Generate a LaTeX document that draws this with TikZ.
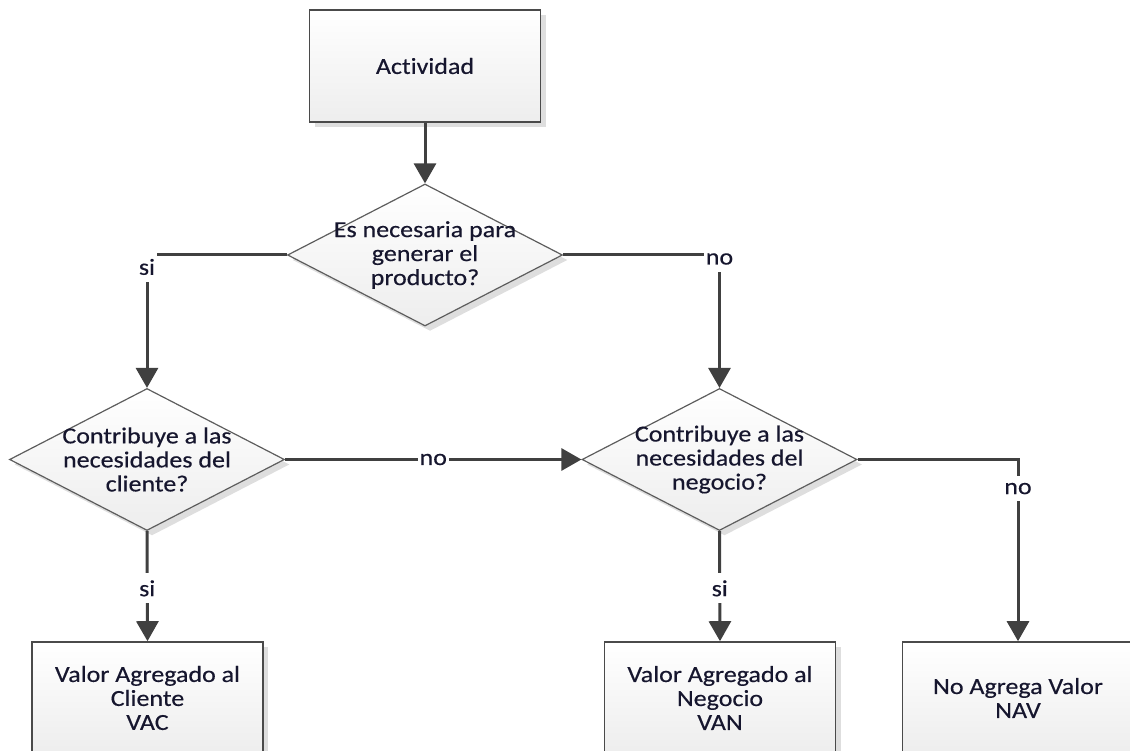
\documentclass[tikz,border=0pt]{standalone}
\usepackage{fontspec}
\setmainfont[FakeStretch=1.13,FakeBold=0.4,Ligatures=NoCommon]{Carlito}
\usetikzlibrary{shapes.geometric,arrows.meta,shadows}
\definecolor{ink}{HTML}{16162E}
\definecolor{edge}{HTML}{404040}
\begin{document}
\begin{tikzpicture}[x=1pt,y=-1pt,
  every node/.style={font=\fontsize{23}{24}\selectfont, text=ink},
  shade/.style={drop shadow={shadow xshift=5pt, shadow yshift=-5pt, fill=black!13, opacity=1}},
  procbox/.style={draw=edge!95, line width=1.6pt, minimum width=231pt, minimum height=112pt,
    top color=white, bottom color=black!7, shade, align=center, inner sep=0pt},
  decision/.style={diamond, draw=edge!85, line width=1.2pt, minimum width=275pt,
    minimum height=142pt, inner sep=0pt, top color=white, bottom color=black!7, shade},
  qtext/.style={align=center, inner sep=0pt},
  flow/.style={draw=edge, line width=3pt, -{Triangle[width=22pt,length=20pt]}},
  lbl/.style={fill=white, inner xsep=2pt, inner ysep=7pt}
]
\useasboundingbox (0,0) rectangle (1130,751);
\clip (0,0) rectangle (1130,751);

% process boxes
\node[procbox] (act) at (425,66) {Actividad};
\node[procbox] (vac) at (147.5,698) {Valor Agregado al\\Cliente\\VAC};
\node[procbox] (van) at (720,698) {Valor Agregado al\\Negocio\\VAN};
\node[procbox] (nav) at (1018,698) {No Agrega Valor\\NAV};

% decisions
\node[decision] (d1) at (425,255) {};
\node[qtext] (d1t) at (d1) {Es necesaria para\\generar el\\producto?};
\node[decision] (d2) at (147,459.5) {};
\node[qtext] (d2t) at (d2) {Contribuye a las\\necesidades del\\cliente?};
\node[decision] (d3) at (719.5,459.5) {};
\node[qtext] (d3t) at (d3) {Contribuye a las\\necesidades del\\negocio?};

% connectors
\draw[flow] (act) -- (d1);
\draw[flow] (d1.west) -| node[lbl,pos=0.545]{si} (d2.north);
\draw[flow] (d1.east) -| node[lbl,pos=0.515]{no} (d3.north);
\draw[flow] (d2.east) -- node[lbl,pos=0.5]{no} (d3.west);
\draw[flow] (d2.south) -- node[lbl,pos=0.52]{si} (vac.north);
\draw[flow] (d3.south) -- node[lbl,pos=0.52]{si} (van.north);
\draw[flow] (d3.east) -| node[lbl,pos=0.58]{no} (nav.north);
\end{tikzpicture}
\end{document}
